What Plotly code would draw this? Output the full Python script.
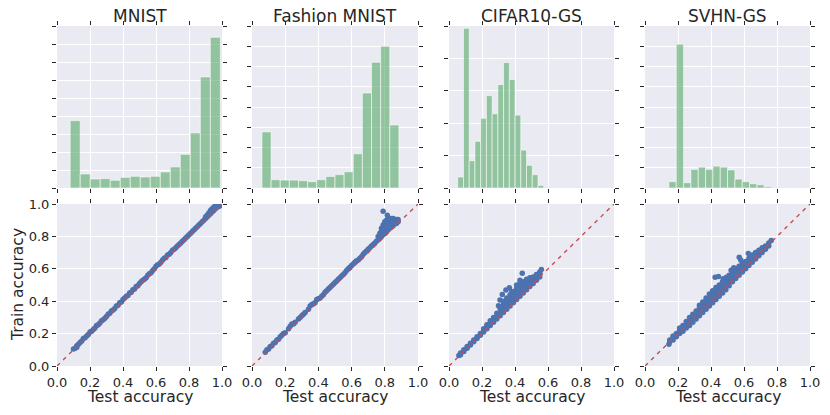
import numpy as np
import plotly.graph_objects as go

# ---------------- data ----------------
titles = ["MNIST", "Fashion MNIST", "CIFAR10-GS", "SVHN-GS"]

# histogram of test accuracy (bin range + counts)
mnist_bins = (0.08, 0.99)
mnist_counts = [374, 78, 50, 52, 43, 59, 65, 61, 65, 89, 117, 187, 306, 617, 837]
fashion_bins = (0.06, 0.885)
fashion_counts = [277, 41, 39, 39, 36, 31, 41, 57, 66, 80, 169, 469, 621, 700, 311]
cifar_bins = (0.053, 0.574)
cifar_counts = [34, 493, 84, 144, 215, 285, 229, 319, 387, 335, 225, 117, 70, 41, 8]
svhn_bins = (0.145, 0.767)
svhn_counts = [31, 710, 26, 92, 103, 92, 108, 103, 89, 44, 31, 21, 16, 7]
hist_ymax = [900, 800, 500, 800]

# scatter: test accuracy vs train accuracy
mnist_test = [0.10, 0.11, 0.12, 0.12, 0.13, 0.14, 0.15, 0.16, 0.17, 0.18, 0.19, 0.20, 0.21, 0.22,
              0.23, 0.24, 0.25, 0.26, 0.27, 0.28, 0.29, 0.30, 0.31, 0.32, 0.33, 0.34, 0.35, 0.36,
              0.37, 0.38, 0.39, 0.40, 0.41, 0.42, 0.43, 0.44, 0.45, 0.46, 0.47, 0.48, 0.49, 0.50,
              0.51, 0.52, 0.53, 0.54, 0.55, 0.56, 0.57, 0.58, 0.59, 0.60, 0.61, 0.62, 0.63, 0.64,
              0.65, 0.66, 0.67, 0.68, 0.69, 0.70, 0.71, 0.72, 0.73, 0.74, 0.75, 0.76, 0.77, 0.78,
              0.79, 0.80, 0.81, 0.82, 0.83, 0.84, 0.85, 0.86, 0.87, 0.88, 0.89, 0.90, 0.90, 0.91,
              0.91, 0.92, 0.92, 0.93, 0.93, 0.94, 0.94, 0.95, 0.95, 0.96, 0.96, 0.97, 0.97, 0.98,
              0.98, 0.99]
mnist_train = [0.105, 0.11, 0.125, 0.115, 0.135, 0.145, 0.155, 0.17, 0.175, 0.185, 0.195, 0.21, 0.215, 0.225,
               0.235, 0.25, 0.255, 0.265, 0.28, 0.285, 0.295, 0.305, 0.32, 0.325, 0.34, 0.345, 0.355, 0.37,
               0.375, 0.39, 0.395, 0.41, 0.42, 0.43, 0.435, 0.45, 0.455, 0.47, 0.475, 0.49, 0.495, 0.51,
               0.52, 0.53, 0.535, 0.545, 0.56, 0.57, 0.575, 0.59, 0.60, 0.615, 0.625, 0.63, 0.64, 0.655,
               0.665, 0.67, 0.685, 0.69, 0.70, 0.715, 0.72, 0.73, 0.74, 0.75, 0.76, 0.77, 0.78, 0.79,
               0.80, 0.81, 0.82, 0.83, 0.84, 0.85, 0.86, 0.87, 0.88, 0.89, 0.90, 0.91, 0.92, 0.92,
               0.93, 0.93, 0.945, 0.94, 0.96, 0.95, 0.97, 0.96, 0.98, 0.97, 0.99, 0.98, 0.99, 0.985,
               0.99, 0.99]

fashion_test = [0.08, 0.09, 0.10, 0.11, 0.12, 0.13, 0.14, 0.15, 0.16, 0.17, 0.18, 0.19, 0.20, 0.22,
                0.23, 0.24, 0.25, 0.26, 0.28, 0.29, 0.30, 0.31, 0.32, 0.34, 0.35, 0.36, 0.37, 0.38,
                0.39, 0.40, 0.41, 0.42, 0.43, 0.44, 0.45, 0.46, 0.47, 0.48, 0.49, 0.50, 0.51, 0.52,
                0.53, 0.54, 0.55, 0.56, 0.57, 0.58, 0.59, 0.60, 0.61, 0.62, 0.63, 0.64, 0.65, 0.66,
                0.67, 0.68, 0.69, 0.70, 0.71, 0.72, 0.73, 0.74, 0.75, 0.76, 0.76, 0.77, 0.77, 0.78,
                0.78, 0.78, 0.79, 0.79, 0.79, 0.80, 0.80, 0.80, 0.81, 0.81, 0.81, 0.82, 0.82, 0.82,
                0.83, 0.83, 0.83, 0.84, 0.84, 0.84, 0.85, 0.85, 0.85, 0.86, 0.86, 0.87, 0.87, 0.88,
                0.88, 0.79, 0.815]
fashion_train = [0.085, 0.10, 0.105, 0.12, 0.125, 0.14, 0.145, 0.16, 0.165, 0.18, 0.19, 0.20, 0.205, 0.23,
                 0.245, 0.26, 0.26, 0.27, 0.29, 0.30, 0.31, 0.32, 0.33, 0.35, 0.37, 0.38, 0.385, 0.39,
                 0.41, 0.415, 0.42, 0.43, 0.44, 0.455, 0.465, 0.475, 0.485, 0.495, 0.505, 0.515, 0.525, 0.535,
                 0.545, 0.555, 0.565, 0.575, 0.59, 0.60, 0.61, 0.62, 0.63, 0.64, 0.65, 0.655, 0.665, 0.675,
                 0.69, 0.70, 0.71, 0.72, 0.73, 0.74, 0.75, 0.76, 0.77, 0.78, 0.80, 0.79, 0.82, 0.80,
                 0.83, 0.85, 0.81, 0.84, 0.87, 0.82, 0.86, 0.89, 0.83, 0.87, 0.90, 0.84, 0.87, 0.91,
                 0.85, 0.88, 0.91, 0.86, 0.89, 0.91, 0.865, 0.89, 0.91, 0.88, 0.905, 0.88, 0.905, 0.89,
                 0.905, 0.955, 0.93]

cifar_test = [0.06,
              0.07, 0.07,
              0.09, 0.09,
              0.11, 0.11,
              0.13, 0.13,
              0.15, 0.15,
              0.17, 0.17,
              0.19, 0.19,
              0.21, 0.21, 0.21,
              0.23, 0.23, 0.23,
              0.25, 0.25, 0.25,
              0.27, 0.27, 0.27,
              0.29, 0.29, 0.29,
              0.31, 0.31, 0.31,
              0.33, 0.33, 0.33, 0.33,
              0.35, 0.35, 0.35, 0.35,
              0.37, 0.37, 0.37, 0.37,
              0.39, 0.39, 0.39, 0.39,
              0.41, 0.41, 0.41, 0.41, 0.41,
              0.43, 0.43, 0.43, 0.43, 0.43,
              0.45, 0.45, 0.45, 0.45,
              0.47, 0.47, 0.47, 0.47,
              0.49, 0.49, 0.49, 0.49,
              0.51, 0.51, 0.51,
              0.53, 0.53, 0.53,
              0.55, 0.55, 0.55,
              0.56,
              0.30, 0.309, 0.323, 0.345, 0.366, 0.38, 0.43, 0.444]
cifar_train = [0.065,
               0.07, 0.08,
               0.09, 0.10,
               0.11, 0.12,
               0.13, 0.14,
               0.15, 0.16,
               0.17, 0.18,
               0.19, 0.20,
               0.21, 0.22, 0.23,
               0.23, 0.245, 0.255,
               0.25, 0.265, 0.28,
               0.27, 0.285, 0.30,
               0.29, 0.305, 0.325,
               0.31, 0.33, 0.355,
               0.33, 0.355, 0.38, 0.40,
               0.35, 0.375, 0.40, 0.42,
               0.37, 0.395, 0.42, 0.44,
               0.39, 0.415, 0.44, 0.46,
               0.41, 0.435, 0.46, 0.48, 0.50,
               0.43, 0.455, 0.48, 0.50, 0.51,
               0.45, 0.475, 0.50, 0.52,
               0.47, 0.495, 0.52, 0.535,
               0.49, 0.51, 0.535, 0.545,
               0.51, 0.53, 0.55,
               0.53, 0.55, 0.565,
               0.55, 0.57, 0.58,
               0.595,
               0.372, 0.407, 0.442, 0.469, 0.483, 0.459, 0.53, 0.572]

svhn_test = [0.145,
             0.15, 0.15,
             0.17, 0.17, 0.17,
             0.19, 0.19,
             0.21, 0.21, 0.21,
             0.23, 0.23, 0.23,
             0.25, 0.25, 0.25,
             0.27, 0.27, 0.27,
             0.29, 0.29, 0.29,
             0.31, 0.31, 0.31,
             0.33, 0.33, 0.33, 0.33,
             0.35, 0.35, 0.35, 0.35,
             0.37, 0.37, 0.37, 0.37,
             0.39, 0.39, 0.39, 0.39,
             0.41, 0.41, 0.41, 0.41,
             0.43, 0.43, 0.43, 0.43,
             0.45, 0.45, 0.45, 0.45,
             0.47, 0.47, 0.47, 0.47,
             0.49, 0.49, 0.49, 0.49,
             0.51, 0.51, 0.51, 0.51,
             0.53, 0.53, 0.53, 0.53,
             0.55, 0.55, 0.55, 0.55,
             0.57, 0.57, 0.57, 0.57,
             0.59, 0.59, 0.59, 0.59,
             0.61, 0.61, 0.61,
             0.63, 0.63, 0.63,
             0.65, 0.65, 0.65,
             0.67, 0.67, 0.67,
             0.69, 0.69, 0.69,
             0.71, 0.71, 0.71,
             0.73, 0.73,
             0.75, 0.75,
             0.765,
             0.425, 0.445, 0.474, 0.493, 0.522, 0.538, 0.571, 0.58, 0.626]
svhn_train = [0.135,
              0.15, 0.16,
              0.16, 0.175, 0.185,
              0.18, 0.20,
              0.20, 0.22, 0.235,
              0.215, 0.235, 0.25,
              0.235, 0.255, 0.275,
              0.25, 0.275, 0.30,
              0.27, 0.295, 0.32,
              0.29, 0.315, 0.34,
              0.31, 0.335, 0.36, 0.375,
              0.33, 0.355, 0.38, 0.395,
              0.35, 0.375, 0.40, 0.42,
              0.37, 0.395, 0.42, 0.445,
              0.39, 0.415, 0.44, 0.465,
              0.41, 0.435, 0.46, 0.485,
              0.43, 0.455, 0.48, 0.50,
              0.45, 0.475, 0.50, 0.52,
              0.47, 0.495, 0.52, 0.54,
              0.495, 0.52, 0.545, 0.56,
              0.52, 0.54, 0.565, 0.58,
              0.54, 0.56, 0.585, 0.60,
              0.56, 0.58, 0.605, 0.615,
              0.58, 0.60, 0.625, 0.635,
              0.60, 0.625, 0.645,
              0.62, 0.645, 0.665,
              0.64, 0.665, 0.685,
              0.66, 0.685, 0.70,
              0.68, 0.70, 0.715,
              0.70, 0.72, 0.73,
              0.72, 0.74,
              0.74, 0.76,
              0.775,
              0.548, 0.552, 0.538, 0.548, 0.591, 0.607, 0.672, 0.654, 0.695]

hist_data = [(mnist_bins, mnist_counts), (fashion_bins, fashion_counts),
             (cifar_bins, cifar_counts), (svhn_bins, svhn_counts)]
scatter_data = [(mnist_test, mnist_train), (fashion_test, fashion_train),
                (cifar_test, cifar_train), (svhn_test, svhn_train)]

# ---------------- style ----------------
W, H = 830, 415
FONT = "DejaVu Sans"
TXT = "#262626"
BG = "#EAEAF2"
BLUE = "#4C72B0"
GREEN_FILL = "rgba(85,168,104,0.6)"
RED = "#C44E52"

# target pixel positions (figure placed at page origin)
panel_px = [(57, 222), (252, 418), (449, 614), (645, 810)]
hist_py = (26, 188)
scat_py = (204, 366)


def fx(px):
    return px / W


def fy(py):
    return (H - py) / H


fig = go.Figure()
layout = dict(
    width=W, height=H, margin=dict(l=0, r=0, t=0, b=0, autoexpand=False),
    paper_bgcolor="white", plot_bgcolor=BG, showlegend=False,
    font=dict(family=FONT, color=TXT),
    bargap=0,
)

ticks = [0, 0.2, 0.4, 0.6, 0.8, 1.0]
ticktext = ["0.0", "0.2", "0.4", "0.6", "0.8", "1.0"]


def axis_common():
    return dict(showgrid=True, gridcolor="white", gridwidth=1, zeroline=False,
                ticks="outside", ticklen=4, tickwidth=1, tickcolor=TXT,
                mirror="ticks", showline=False, automargin=False,
                tickfont=dict(family=FONT, size=13, color=TXT))


annotations = []
for i in range(4):
    hi = 2 * i + 1
    si = 2 * i + 2
    xd = [fx(panel_px[i][0]), fx(panel_px[i][1])]
    # histogram
    (lo, hi_edge), counts = hist_data[i]
    edges = np.linspace(lo, hi_edge, len(counts) + 1)
    centers = (edges[:-1] + edges[1:]) / 2
    widths = np.diff(edges)
    fig.add_trace(go.Bar(x=centers, y=counts, width=widths,
                         marker=dict(color=GREEN_FILL, line=dict(color="rgba(255,255,255,0.7)", width=0.8)),
                         xaxis=f"x{hi}", yaxis=f"y{hi}", hoverinfo="skip"))
    ax = axis_common()
    ax.update(domain=xd, range=[0, 1], tickvals=ticks, showticklabels=False, anchor=f"y{hi}")
    layout[f"xaxis{hi}"] = ax
    ay = axis_common()
    ay.update(domain=[fy(hist_py[1]), fy(hist_py[0])], range=[0, hist_ymax[i]],
              dtick=100, tick0=0, showticklabels=False, anchor=f"x{hi}")
    layout[f"yaxis{hi}"] = ay

    # scatter
    tx, ty = scatter_data[i]
    fig.add_trace(go.Scatter(x=tx, y=ty, mode="markers",
                             marker=dict(color=BLUE, size=5.5, line=dict(width=0)),
                             xaxis=f"x{si}", yaxis=f"y{si}", hoverinfo="skip"))
    fig.add_trace(go.Scatter(x=[0, 1], y=[0, 1], mode="lines",
                             line=dict(color=RED, width=1.4, dash="4px,4.5px"),
                             xaxis=f"x{si}", yaxis=f"y{si}", hoverinfo="skip"))
    ax = axis_common()
    ax.update(domain=xd, range=[0, 1], tickvals=ticks, ticktext=ticktext, anchor=f"y{si}")
    layout[f"xaxis{si}"] = ax
    ay = axis_common()
    ay.update(domain=[fy(scat_py[1]), fy(scat_py[0])], range=[0, 1],
              tickvals=ticks, ticktext=ticktext, showticklabels=(i == 0), anchor=f"x{si}")
    layout[f"yaxis{si}"] = ay

    cx = fx((panel_px[i][0] + panel_px[i][1]) / 2)
    annotations.append(dict(text=titles[i], x=cx, y=fy(16), xref="paper", yref="paper",
                            showarrow=False, xanchor="center", yanchor="middle",
                            font=dict(family=FONT, size=17, color=TXT)))
    annotations.append(dict(text="Test accuracy", x=cx, y=fy(397), xref="paper", yref="paper",
                            showarrow=False, xanchor="center", yanchor="middle",
                            font=dict(family=FONT, size=15.5, color=TXT)))

annotations.append(dict(text="Train accuracy", x=fx(18), y=fy(285), xref="paper", yref="paper",
                        showarrow=False, xanchor="center", yanchor="middle", textangle=-90,
                        font=dict(family=FONT, size=15.5, color=TXT)))
layout["annotations"] = annotations
fig.update_layout(**layout)
fig.write_html("out.html",
               config={"displayModeBar": False, "staticPlot": True},
               post_script="document.body.style.margin='0';document.body.style.overflow='hidden';")
